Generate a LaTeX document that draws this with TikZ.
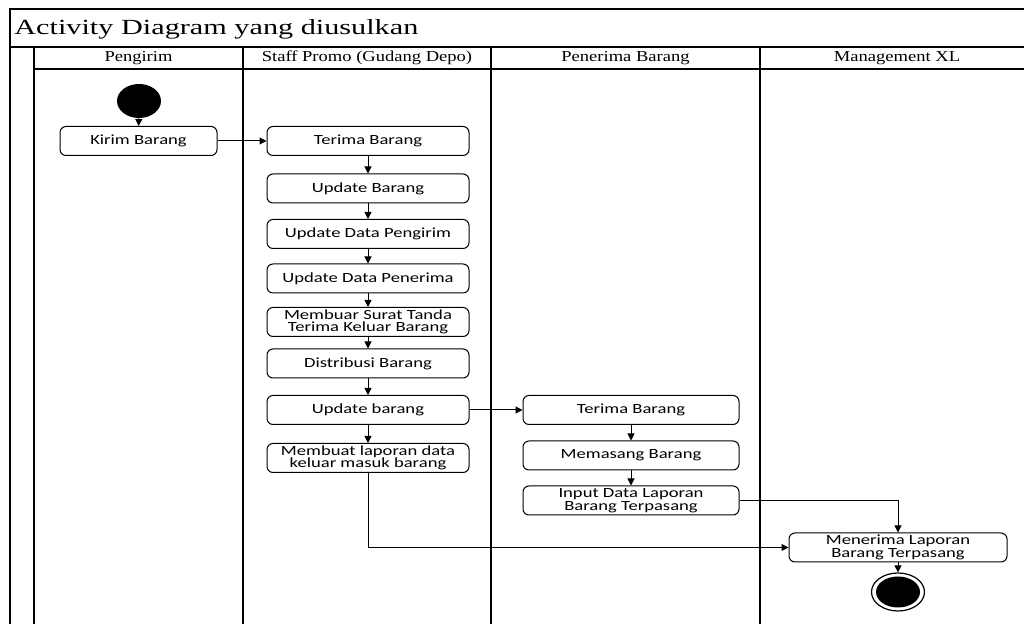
\documentclass[tikz,border=0pt]{standalone}
\usepackage{fontspec}
\setmainfont{Liberation Serif}
\newfontfamily\titlefont[FakeStretch=1.4]{Liberation Serif}
\newfontfamily\lanefont[FakeStretch=1.22]{Liberation Serif}
\newfontfamily\boxfont[FakeStretch=1.33]{Carlito}
\usetikzlibrary{arrows.meta,shapes.geometric}

\begin{document}
\begin{tikzpicture}[x=0.5pt, y=-0.5pt,
  act/.style={draw, rounded corners=3pt, line width=0.5pt, align=center, inner sep=0pt, minimum height=14.5pt, font=\boxfont\fontsize{7}{6.3}\selectfont},
  lane/.style={font=\lanefont\fontsize{7.6}{9}\selectfont},
  frameline/.style={line width=1pt},
  flow/.style={-{Triangle[length=3.5pt,width=3.5pt]}, line width=0.5pt}
]
  \useasboundingbox (0,0) rectangle (1024,624);

  % swimlane frame
  \draw[frameline] (1024,9) -- (10,9) -- (10,624);
  \draw[frameline] (10,47) -- (1024,47);
  \draw[frameline] (34,69) -- (1024,69);
  \foreach \lx in {34,243,491,760}
    \draw[frameline] (\lx,47) -- (\lx,624);

  \node[anchor=west, inner sep=0pt, font=\titlefont\fontsize{10.8}{12}\selectfont] (title) at (14,29) {Activity Diagram yang diusulkan};
  \node[lane] (lnPengirim) at (138.5,58) {Pengirim};
  \node[lane] (lnStaff) at (367,58) {Staff Promo (Gudang Depo)};
  \node[lane] (lnPenerima) at (625.5,58) {Penerima Barang};
  \node[lane] (lnMgmt) at (897,58) {Management XL};

  % Pengirim
  \node[ellipse, fill=black, inner sep=0pt, minimum width=22pt, minimum height=17pt] (start) at (139,101) {};
  \node[act, minimum width=78.5pt] (kirim) at (138.5,141) {Kirim Barang};

  % Staff Promo
  \node[act, minimum width=101pt] (terimaS) at (368,141) {Terima Barang};
  \node[act, minimum width=101pt] (updBarang) at (368,188.5) {Update Barang};
  \node[act, minimum width=101pt] (updPengirim) at (368,234) {Update Data Pengirim};
  \node[act, minimum width=101pt] (updPenerima) at (368,278.5) {Update Data Penerima};
  \node[act, minimum width=101pt] (surat) at (368,322) {Membuar Surat Tanda\\Terima Keluar Barang};
  \node[act, minimum width=101pt] (distribusi) at (368,363.5) {Distribusi Barang};
  \node[act, minimum width=101pt] (updBarang2) at (368,410) {Update barang};
  \node[act, minimum width=101pt] (laporan) at (368,458) {Membuat laporan data\\keluar masuk barang};

  % Penerima Barang
  \node[act, minimum width=108pt] (terimaP) at (631,410) {Terima Barang};
  \node[act, minimum width=108pt] (memasang) at (631,455.5) {Memasang Barang};
  \node[act, minimum width=108pt] (inputLap) at (631,500.5) {Input Data Laporan\\Barang Terpasang};

  % Management XL
  \node[act, minimum width=109pt] (menerima) at (898,547.5) {Menerima Laporan\\Barang Terpasang};
  \node[ellipse, draw, line width=0.6pt, inner sep=0pt, minimum width=26.5pt, minimum height=19pt] (finish) at (898,592) {};
  \node[ellipse, fill=black, inner sep=0pt, minimum width=22pt, minimum height=15.5pt] (finishDot) at (898,592) {};

  \draw[flow] (start) -- (kirim);
  \draw[flow] (kirim) -- (terimaS);
  \draw[flow] (terimaS) -- (updBarang);
  \draw[flow] (updBarang) -- (updPengirim);
  \draw[flow] (updPengirim) -- (updPenerima);
  \draw[flow] (updPenerima) -- (surat);
  \draw[flow] (surat) -- (distribusi);
  \draw[flow] (distribusi) -- (updBarang2);
  \draw[flow] (updBarang2) -- (laporan);
  \draw[flow] (updBarang2) -- (terimaP);
  \draw[flow] (terimaP) -- (memasang);
  \draw[flow] (memasang) -- (inputLap);
  \draw[flow] (inputLap.east) -| (menerima.north);
  \draw[flow] (laporan.south) |- (menerima.west);
  \draw[flow] (menerima) -- (finish);
\end{tikzpicture}
\end{document}
